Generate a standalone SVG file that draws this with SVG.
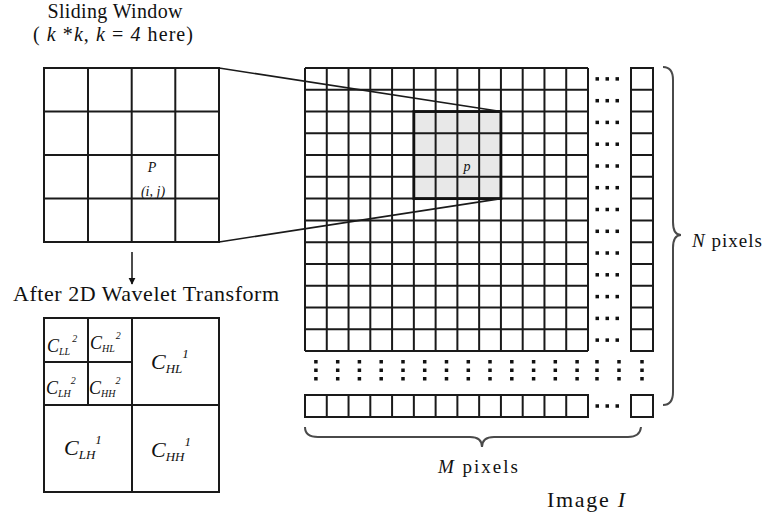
<svg xmlns="http://www.w3.org/2000/svg" xmlns:xlink="http://www.w3.org/1999/xlink" width="764" height="519" viewBox="0 0 764 519">
<style>
text{font-family:"Liberation Serif","Times New Roman",serif;fill:#111}
.it{font-style:italic}
.grid{fill:none;stroke:#1a1a1a;stroke-width:2}
.win{fill:none;stroke:#1a1a1a;stroke-width:1.6}
.brace{fill:none;stroke:#4a4a4a;stroke-width:2}
.dot{fill:#111}
</style>
<defs>
<g id="hdots"><rect class="dot" x="595.5" y="-1.75" width="3.5" height="3.5"/><rect class="dot" x="605.5" y="-1.75" width="3.5" height="3.5"/><rect class="dot" x="615.5" y="-1.75" width="3.5" height="3.5"/></g>
<g id="vdots"><rect class="dot" x="-1.75" y="360" width="3.5" height="3.5"/><rect class="dot" x="-1.75" y="368.5" width="3.5" height="3.5"/><rect class="dot" x="-1.75" y="377" width="3.5" height="3.5"/></g>
<marker id="arr" viewBox="0 0 10 10" refX="9" refY="5" markerWidth="7" markerHeight="8" orient="auto" markerUnits="userSpaceOnUse"><path d="M0,0 L10,5 L0,10 z" fill="#111"/></marker>
</defs>
<rect width="764" height="519" fill="#fff"/>

<g id="sliding-window">
<text x="115" y="18" text-anchor="middle" font-size="20" textLength="135" lengthAdjust="spacing">Sliding Window</text>
<text x="113" y="41" text-anchor="middle" font-size="20" textLength="160" lengthAdjust="spacing">( <tspan class="it">k</tspan> *<tspan class="it">k</tspan>, <tspan class="it">k</tspan> = <tspan class="it">4</tspan> here)</text>
<path class="grid" d="M44 68H219V242H44Z M88 68V242 M131.7 68V242 M175.3 68V242 M44 111.5H219 M44 155H219 M44 198.5H219"/>
<text x="152" y="172" text-anchor="middle" font-size="14" class="it">P</text>
<text x="153" y="196" text-anchor="middle" font-size="14" class="it">(i, j)</text>
</g>

<g id="image-grid">
<rect x="413.85" y="111.54" width="87.07" height="87.08" fill="#e8e8e8"/>
<path class="grid" d="M305 68V351 M326.77 68V351 M348.54 68V351 M370.31 68V351 M392.08 68V351 M413.85 68V351 M435.62 68V351 M457.38 68V351 M479.15 68V351 M500.92 68V351 M522.69 68V351 M544.46 68V351 M566.23 68V351 M588 68V351
M305 68H588 M305 89.77H588 M305 111.54H588 M305 133.31H588 M305 155.08H588 M305 176.85H588 M305 198.62H588 M305 220.38H588 M305 242.15H588 M305 263.92H588 M305 285.69H588 M305 307.46H588 M305 329.23H588 M305 351H588"/>
<path class="grid" d="M631 68H653V351H631Z M631 89.77H653 M631 111.54H653 M631 133.31H653 M631 155.08H653 M631 176.85H653 M631 198.62H653 M631 220.38H653 M631 242.15H653 M631 263.92H653 M631 285.69H653 M631 307.46H653 M631 329.23H653"/>
<path class="grid" d="M305 395H588V417H305Z M326.77 395V417 M348.54 395V417 M370.31 395V417 M392.08 395V417 M413.85 395V417 M435.62 395V417 M457.38 395V417 M479.15 395V417 M500.92 395V417 M522.69 395V417 M544.46 395V417 M566.23 395V417 M631 395H653V417H631Z"/>
<rect x="413.85" y="111.54" width="87.07" height="87.08" fill="none" stroke="#111" stroke-width="2.8"/>
<text x="467" y="171" text-anchor="middle" font-size="14" class="it">p</text>
<use xlink:href="#hdots" y="78.9"/><use xlink:href="#hdots" y="100.7"/><use xlink:href="#hdots" y="122.4"/><use xlink:href="#hdots" y="144.2"/><use xlink:href="#hdots" y="166"/><use xlink:href="#hdots" y="187.7"/><use xlink:href="#hdots" y="209.5"/><use xlink:href="#hdots" y="231.3"/><use xlink:href="#hdots" y="253"/><use xlink:href="#hdots" y="274.8"/><use xlink:href="#hdots" y="296.6"/><use xlink:href="#hdots" y="318.4"/><use xlink:href="#hdots" y="340.1"/><use xlink:href="#hdots" y="406"/>
<use xlink:href="#vdots" x="315.9"/><use xlink:href="#vdots" x="337.7"/><use xlink:href="#vdots" x="359.4"/><use xlink:href="#vdots" x="381.2"/><use xlink:href="#vdots" x="403"/><use xlink:href="#vdots" x="424.7"/><use xlink:href="#vdots" x="446.5"/><use xlink:href="#vdots" x="468.3"/><use xlink:href="#vdots" x="490"/><use xlink:href="#vdots" x="511.8"/><use xlink:href="#vdots" x="533.6"/><use xlink:href="#vdots" x="555.3"/><use xlink:href="#vdots" x="577.1"/><use xlink:href="#vdots" x="597"/><use xlink:href="#vdots" x="619"/><use xlink:href="#vdots" x="642"/>
<path class="brace" d="M663 67Q673 67 673 80V222Q673 235 681 235Q673 235 673 248V392Q673 405 663 405"/>
<text x="692" y="247" font-size="19" textLength="70" lengthAdjust="spacing"><tspan class="it">N</tspan> pixels</text>
<path class="brace" d="M305 427Q305 437 318 437H470Q482 437 482 447Q482 437 494 437H628Q640 437 641 427"/>
<text x="478" y="473" text-anchor="middle" font-size="19" textLength="80" lengthAdjust="spacing"><tspan class="it">M</tspan> pixels</text>
<text x="547" y="507" font-size="22" textLength="78" lengthAdjust="spacing">Image <tspan class="it">I</tspan></text>
</g>

<g id="wavelet">
<text x="13" y="301" font-size="22" textLength="266" lengthAdjust="spacing">After 2D Wavelet Transform</text>
<path class="grid" d="M44 318H219V492H44Z M132 318V492 M44 405H219 M88 318V405 M44 362H132"/>
<text x="47" y="352" font-size="18" class="it">C<tspan font-size="10" dy="3">LL</tspan><tspan font-size="10" dx="2" dy="-13">2</tspan></text>
<text x="90" y="349" font-size="18" class="it">C<tspan font-size="10" dy="3">HL</tspan><tspan font-size="10" dx="1" dy="-13">2</tspan></text>
<text x="46" y="394" font-size="18" class="it">C<tspan font-size="10" dy="3">LH</tspan><tspan font-size="10" dx="0" dy="-13">2</tspan></text>
<text x="89" y="394" font-size="18" class="it">C<tspan font-size="10" dy="3">HH</tspan><tspan font-size="10" dx="0" dy="-13">2</tspan></text>
<text x="151" y="369" font-size="22" class="it">C<tspan font-size="13" dy="4">HL</tspan><tspan font-size="13" dy="-15">1</tspan></text>
<text x="64" y="455" font-size="22" class="it">C<tspan font-size="13" dy="4">LH</tspan><tspan font-size="13" dy="-15">1</tspan></text>
<text x="151" y="457" font-size="22" class="it">C<tspan font-size="13" dy="4">HH</tspan><tspan font-size="13" dy="-15">1</tspan></text>
</g>

<g id="connectors">
<path class="win" d="M219 68L500.92 111.54 M219 242L500.92 198.62"/>
<path d="M132 252V284" stroke="#111" stroke-width="1.5" fill="none" marker-end="url(#arr)"/>
</g>
</svg>
